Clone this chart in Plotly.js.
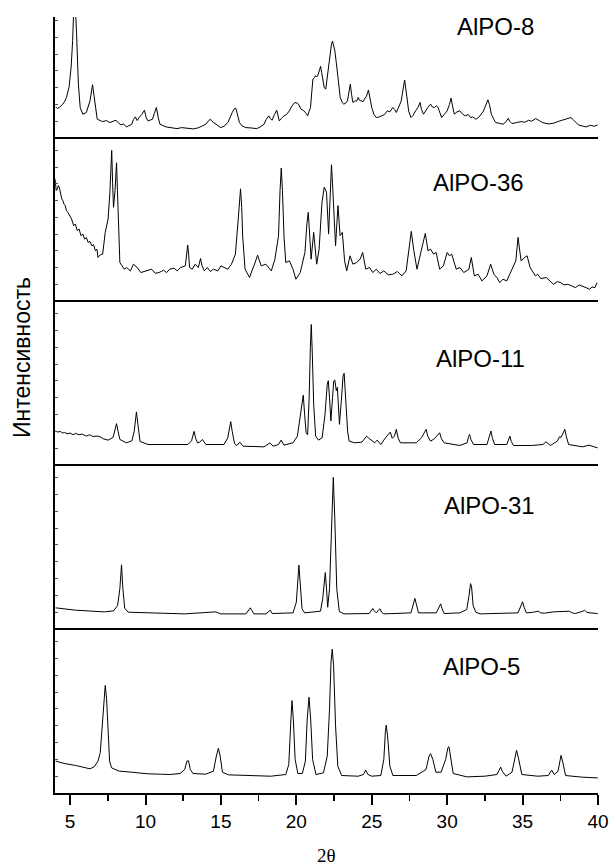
<!DOCTYPE html>
<html>
<head>
<meta charset="utf-8">
<script src="https://cdn.plot.ly/plotly-3.0.1.min.js"></script>
<style>body{margin:0;padding:0;background:#fff}#chart{width:609px;height:865px}</style>
</head>
<body>
<div id="chart"></div>
<script>
// ---- Data (2θ, intensity in arbitrary units) ----
const names = ["AlPO-8", "AlPO-36", "AlPO-11", "AlPO-31", "AlPO-5"];

const x_alpo8 = [4.04,4.15,4.28,4.4,4.52,4.65,4.76,4.93,5.07,5.17,
5.29,5.43,5.55,5.67,5.84,6.08,6.32,6.49,6.63,6.8,
7.0,7.16,7.4,7.64,7.85,8.05,8.2,8.37,8.55,8.73,
9.09,9.2,9.33,9.45,9.57,9.75,9.93,10.05,10.17,10.46,
10.6,10.72,10.85,10.96,11.37,11.7,12.09,12.4,12.8,13.2,
13.53,13.8,14.0,14.15,14.3,14.4,14.54,14.75,14.98,15.2,
15.46,15.75,15.9,15.99,16.1,16.23,16.4,16.66,17.0,17.38,
17.6,17.86,18.0,18.17,18.28,18.39,18.55,18.7,18.8,18.87,
19.0,19.18,19.35,19.54,19.7,19.9,20.05,20.14,20.31,20.5,
20.62,20.75,20.85,20.94,21.03,21.1,21.2,21.27,21.35,21.42,
21.52,21.61,21.68,21.75,21.85,21.95,22.05,22.12,22.26,22.33,
22.4,22.47,22.55,22.65,22.72,22.8,22.91,23.05,23.15,23.3,
23.39,23.5,23.58,23.66,23.75,23.91,24.0,24.1,24.2,24.3,
24.42,24.52,24.65,24.78,24.88,25.0,25.15,25.3,25.5,25.67,
25.85,26.03,26.2,26.4,26.52,26.63,26.75,26.87,26.95,27.06,
27.18,27.28,27.35,27.45,27.6,27.75,27.9,28.05,28.2,28.3,
28.43,28.55,28.67,28.78,28.9,29.0,29.15,29.28,29.4,29.5,
29.63,29.8,30.0,30.15,30.26,30.36,30.47,30.65,30.84,31.0,
31.2,31.4,31.55,31.7,31.9,32.1,32.27,32.4,32.5,32.62,
32.7,32.8,32.93,33.1,33.22,33.45,33.7,33.9,34.05,34.15,
34.3,34.6,34.9,35.15,35.4,35.6,35.87,36.1,36.33,36.7,
37.05,37.4,37.78,38.0,38.2,38.35,38.7,38.95,39.2,39.5,
39.75,39.98];
const y_alpo8 = [93,88,91,95,101,110,121,151,211,291,
450,311,161,91,71,76,111,159,111,56,
52,49,52,46,50,53,45,39,42,33,
41,55,63,52,61,70,83,60,51,56,
75,91,60,41,33,30,28,31,29,27,
31,36,41,50,56,50,46,38,31,35,
46,76,88,89,70,46,36,31,30,28,
33,41,55,66,58,53,70,83,65,51,
58,66,70,81,95,106,104,101,86,81,
75,66,80,91,140,176,180,186,182,186,
200,214,195,171,150,146,180,211,261,280,
289,275,261,225,201,160,121,105,101,105,
111,140,161,130,106,111,110,121,112,111,
108,116,125,143,120,91,70,61,63,66,
70,81,78,91,85,76,88,101,110,141,
173,140,111,80,61,68,81,90,106,85,
71,80,91,95,101,93,91,96,91,75,
61,70,81,100,119,95,71,78,81,72,
66,70,61,63,56,62,71,80,91,105,
114,100,71,55,46,44,41,48,59,50,
43,46,49,47,53,50,58,52,46,42,
44,50,56,58,61,55,39,36,33,38,
35,39];

const x_alpo36 = [4.0,4.08,4.16,4.22,4.28,4.36,4.45,4.52,4.59,4.68,
4.76,4.85,5.0,5.1,5.24,5.35,5.48,5.6,5.72,5.85,
5.96,6.08,6.2,6.32,6.44,6.56,6.68,6.78,6.85,7.0,
7.16,7.33,7.45,7.52,7.64,7.7,7.76,7.82,7.88,7.98,
8.08,8.14,8.2,8.3,8.45,8.6,8.75,9.0,9.2,9.45,
9.69,9.9,10.17,10.4,10.65,10.9,11.2,11.4,11.6,11.9,
12.1,12.33,12.64,12.75,12.8,12.86,12.92,13.1,13.3,13.5,
13.65,13.75,13.9,14.1,14.3,14.5,14.8,15.0,15.2,15.45,
15.7,15.96,16.15,16.25,16.3,16.38,16.44,16.6,16.9,17.05,
17.19,17.43,17.67,17.98,18.15,18.34,18.58,18.82,18.92,19.0,
19.08,19.18,19.3,19.54,19.78,19.97,20.26,20.57,20.7,20.79,
20.88,20.98,21.15,21.25,21.35,21.51,21.7,21.85,22.0,22.14,
22.25,22.33,22.4,22.48,22.6,22.76,22.9,23.05,23.2,23.34,
23.56,23.75,24.0,24.23,24.4,24.6,24.85,25.07,25.3,25.55,
25.8,26.1,26.4,26.7,27.0,27.28,27.47,27.62,27.79,28.0,
28.2,28.4,28.55,28.73,28.9,29.1,29.27,29.5,29.75,30.0,
30.15,30.3,30.6,30.85,31.1,31.44,31.6,31.8,32.05,32.3,
32.64,32.88,33.1,33.3,33.48,33.7,33.95,34.3,34.55,34.7,
34.9,35.14,35.3,35.5,35.85,36.0,36.2,36.57,36.8,37.05,
37.3,37.53,37.75,38.0,38.25,38.5,38.75,38.97,39.2,39.45,
39.6,39.8,39.94];
const y_alpo36 = [365,330,335,345,340,320,305,300,290,285,
270,265,255,245,225,230,210,215,195,200,
185,190,175,178,165,168,150,155,130,138,
140,205,230,245,325,400,450,350,280,330,
413,330,215,115,105,95,100,90,110,100,
85,88,90,95,83,85,92,85,95,98,
90,100,105,140,167,140,100,95,110,100,
127,105,90,100,88,95,90,105,100,95,
110,140,245,320,335,280,195,95,70,90,
105,137,105,110,100,90,125,195,330,397,
330,195,115,120,95,65,85,145,230,265,
200,125,205,160,110,155,295,340,325,200,
330,407,350,255,165,285,195,205,120,90,
135,110,115,125,145,95,100,85,95,82,
90,78,80,88,75,90,165,208,150,95,
135,175,202,150,155,140,145,95,105,145,
135,140,95,100,85,95,130,75,80,60,
75,110,80,70,55,65,60,95,120,190,
120,130,135,100,75,80,67,70,60,50,
58,55,48,50,45,40,48,45,40,35,
42,40,55];

const x_alpo11 = [4.04,4.2,4.35,4.5,4.64,4.8,5.0,5.2,5.36,5.6,
5.8,6.08,6.3,6.5,6.8,7.0,7.2,7.52,7.85,7.98,
8.08,8.18,8.3,8.73,9.1,9.25,9.4,9.5,9.64,10.17,
11.5,12.81,13.05,13.15,13.22,13.32,13.45,13.6,13.77,14.0,
15.2,15.45,15.58,15.65,15.75,15.9,16.06,16.25,16.47,17.5,
17.86,18.25,18.46,18.82,18.99,19.18,19.78,20.07,20.25,20.4,
20.46,20.55,20.65,20.75,20.85,20.93,20.99,21.06,21.15,21.28,
21.47,21.71,21.9,22.05,22.12,22.2,22.29,22.4,22.48,22.55,
22.65,22.72,22.8,22.86,22.98,23.1,23.17,23.27,23.4,23.5,
23.87,24.35,24.55,24.66,24.8,24.95,25.2,25.36,25.6,25.91,
26.1,26.23,26.35,26.5,26.63,26.75,26.9,27.95,28.3,28.5,
28.6,28.72,28.9,29.15,29.4,29.5,29.62,29.8,30.84,31.32,
31.42,31.49,31.58,31.75,32.64,32.82,32.9,33.0,33.15,33.95,
34.1,34.16,34.25,34.4,35.6,36.35,36.55,36.7,36.85,37.3,
37.45,37.55,37.72,37.8,37.9,38.05,38.97,39.4,39.98];
const y_alpo11 = [101,98,100,95,97,93,95,90,94,90,
92,86,90,85,86,84,78,74,82,105,
123,100,76,66,72,100,158,120,70,61,
60,61,72,95,100,80,66,68,76,61,
61,80,120,129,100,64,58,68,56,54,
54,66,56,61,74,59,66,86,140,200,
208,150,96,90,200,350,418,330,180,86,
74,81,150,240,251,200,131,200,250,253,
221,231,160,121,190,265,273,180,100,71,
66,68,78,86,80,74,66,74,61,81,
90,98,80,85,106,80,66,66,81,98,
106,85,71,78,90,96,78,66,58,66,
85,91,75,61,61,90,101,80,61,61,
80,86,70,58,58,61,69,64,58,71,
84,82,100,106,85,61,54,59,51];

const x_alpo31 = [4.04,5.36,6.5,7.28,7.88,8.15,8.3,8.41,8.5,8.62,
8.85,10.5,12.57,14.66,14.98,16.66,16.9,16.95,17.05,17.19,
17.98,18.22,18.28,18.4,19.78,20.0,20.1,20.17,20.25,20.38,
20.55,21.6,21.75,21.85,21.92,22.0,22.08,22.2,22.35,22.45,
22.55,22.68,22.85,23.15,24.83,25.02,25.07,25.15,25.3,25.48,
25.55,25.65,25.8,27.6,27.78,27.86,27.95,28.1,29.28,29.5,
29.57,29.65,29.8,30.84,31.3,31.45,31.55,31.62,31.72,31.9,
32.2,34.7,34.92,35.0,35.1,35.25,35.73,35.95,36.04,36.2,
36.45,37.05,37.3,37.53,37.8,38.09,38.3,38.5,39.0,39.1,
39.25,39.46,39.98];
const y_alpo31 = [63,56,53,51,54,70,120,191,120,62,
50,47,45,51,45,45,58,63,55,45,
45,53,56,46,48,80,150,190,140,60,
48,53,90,150,168,120,65,120,330,451,
330,120,52,45,46,58,61,55,48,58,
60,50,45,48,80,91,75,48,48,68,
75,62,46,48,58,100,135,125,70,50,
45,48,75,81,65,48,50,53,53,48,
47,51,52,51,53,53,48,46,53,56,
50,48,46];

const x_alpo5 = [4.04,4.6,5.36,6.0,6.32,6.6,6.85,7.0,7.12,7.25,
7.33,7.42,7.52,7.62,7.75,8.25,8.85,9.5,10.17,11.0,
11.6,12.3,12.6,12.75,12.85,12.97,13.15,14.0,14.5,14.7,
14.83,14.95,15.1,15.5,16.4,17.5,18.3,19.3,19.5,19.62,
19.71,19.8,19.92,20.1,20.4,20.6,20.72,20.84,20.95,21.08,
21.3,21.8,22.05,22.2,22.3,22.38,22.47,22.6,22.75,23.0,
24.1,24.45,24.6,24.75,25.0,25.6,25.8,25.9,25.96,26.05,
26.2,26.4,27.95,28.6,28.8,28.9,29.05,29.25,29.6,29.9,
30.05,30.12,30.22,30.4,31.3,32.5,33.3,33.5,33.55,33.65,
33.9,34.3,34.5,34.6,34.72,34.95,36.0,36.7,36.93,37.1,
37.35,37.5,37.55,37.65,37.85,38.97,39.98];
const y_alpo5 = [95,88,82,75,72,78,95,120,190,290,
320,280,170,95,75,65,63,60,57,56,
55,58,70,95,96,70,58,56,65,110,
133,110,62,54,52,51,50,55,85,200,
275,220,100,58,58,95,220,285,220,100,
55,60,110,250,390,428,380,200,80,52,
50,55,68,55,50,52,100,180,202,170,
80,52,52,70,110,117,100,62,62,100,
135,138,110,58,48,50,55,72,77,65,
50,62,110,127,105,55,50,52,68,55,
65,108,112,95,52,47,45];

const xTicks = [5,10,15,20,25,30,35,40];
const labelX = [33.2, 32.1, 32.2, 32.8, 32.3];
const labelY = [334, 355, 316, 368, 375];

// ---- Layout geometry ----
const plotH = 776; // px
const bounds = [0,164,328,492,655,776].map(v => v/plotH); // bottom→top
const series = [
  {x: x_alpo8,  y: y_alpo8,  ax: 'y5', dom: [bounds[4], bounds[5]], rng: [0, 361]},
  {x: x_alpo36, y: y_alpo36, ax: 'y4', dom: [bounds[3], bounds[4]], rng: [0, 487]},
  {x: x_alpo11, y: y_alpo11, ax: 'y3', dom: [bounds[2], bounds[3]], rng: [0, 488]},
  {x: x_alpo31, y: y_alpo31, ax: 'y2', dom: [bounds[1], bounds[2]], rng: [0, 488]},
  {x: x_alpo5,  y: y_alpo5,  ax: 'y',  dom: [bounds[0], bounds[1]], rng: [0, 488]}
];

const traces = series.map((s, i) => ({
  type: 'scatter', mode: 'lines', x: s.x, y: s.y, xaxis: 'x', yaxis: s.ax,
  line: {color: '#000', width: 1}, name: names[i], showlegend: false, hoverinfo: 'skip'
}));

const layout = {
  width: 609, height: 865,
  margin: {l: 55, r: 11, t: 17, b: 72},
  paper_bgcolor: '#fff', plot_bgcolor: '#fff',
  showlegend: false,
  font: {family: 'Arial, "Liberation Sans", sans-serif', color: '#000'},
  xaxis: {
    anchor: 'y', range: [4, 40], tickmode: 'array', tickvals: xTicks, ticktext: xTicks.map(String),
    ticks: 'outside', ticklen: 10, tickwidth: 2, tickcolor: '#000',
    minor: {dtick: 2.5, tick0: 2.5, ticks: 'outside', ticklen: 6, tickwidth: 1.5, tickcolor: '#000', showgrid: false},
    showline: true, linewidth: 2, linecolor: '#000', showgrid: false, zeroline: false,
    tickfont: {size: 19, family: 'Arial, "Liberation Sans", sans-serif'}
  },
  annotations: [],
  shapes: []
};

series.forEach((s, i) => {
  const key = s.ax === 'y' ? 'yaxis' : 'yaxis' + s.ax.slice(1);
  layout[key] = {
    domain: s.dom, range: s.rng, anchor: 'x',
    showline: true, linewidth: 2, linecolor: '#000', mirror: false,
    ticks: 'inside', ticklen: 3, tickwidth: 1, tickcolor: '#555', tickmode: 'linear', tick0: 0, dtick: 50,
    showticklabels: false, showgrid: false, zeroline: false, fixedrange: true
  };
  layout.annotations.push({
    x: labelX[i], y: labelY[i], xref: 'x', yref: s.ax, text: names[i], showarrow: false,
    xanchor: 'center', yanchor: 'middle', font: {size: 24, family: 'Arial, "Liberation Sans", sans-serif', color: '#000'}
  });
});

// panel separators
[1,2,3,4].forEach(k => {
  layout.shapes.push({type: 'line', xref: 'paper', yref: 'paper', x0: 0, x1: 1, y0: bounds[k], y1: bounds[k],
    line: {color: '#000', width: 2}});
});

// axis titles
layout.annotations.push({
  xref: 'paper', yref: 'paper', x: -33/543, y: (793-358)/plotH, text: 'Интенсивность', textangle: -90,
  showarrow: false, xanchor: 'center', yanchor: 'middle',
  font: {size: 23, family: 'Arial, "Liberation Sans", sans-serif', color: '#000'}
});
layout.annotations.push({
  xref: 'paper', yref: 'paper', x: 0.5, y: -62/plotH, text: '2θ',
  showarrow: false, xanchor: 'center', yanchor: 'middle', borderpad: 0,
  font: {size: 19, family: '"Times New Roman", "Liberation Serif", serif', color: '#000'}
});

Plotly.newPlot('chart', traces, layout, {displayModeBar: false, staticPlot: true});
</script>
</body>
</html>
